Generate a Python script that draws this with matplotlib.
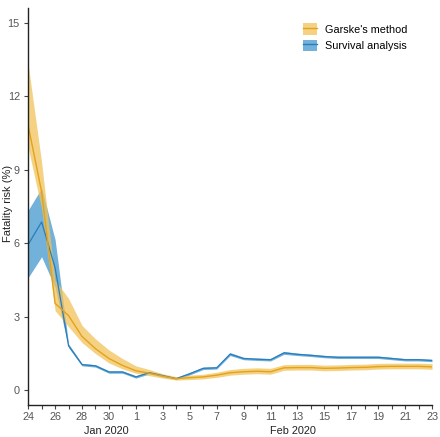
import numpy as np
import pandas as pd
import matplotlib
matplotlib.use('Agg')
import matplotlib.pyplot as plt
import matplotlib.dates as mdates
from matplotlib.patches import Patch
from matplotlib.lines import Line2D

plt.rcParams['font.family'] = ['Liberation Sans', 'DejaVu Sans']

dates = pd.date_range('2020-01-24', '2020-02-23', freq='D')

# Garske's method: estimate and interval
garske = [10.8, 8.1, 3.55, 3.05, 2.2, 1.7, 1.3, 1.02, 0.8, 0.7, 0.58, 0.48, 0.52, 0.55,
          0.62, 0.72, 0.76, 0.78, 0.76, 0.92, 0.93, 0.93, 0.9, 0.91, 0.93, 0.94,
          0.97, 0.98, 0.98, 0.98, 0.96]
garske_lo = [9.9, 7.4, 3.25, 2.6, 1.95, 1.5, 1.12, 0.88, 0.7, 0.6, 0.5, 0.42, 0.44, 0.47,
             0.53, 0.62, 0.66, 0.68, 0.66, 0.82, 0.83, 0.83, 0.8, 0.81, 0.83, 0.84,
             0.87, 0.88, 0.88, 0.88, 0.86]
garske_hi = [13.3, 9.3, 4.5, 3.75, 2.65, 2.1, 1.65, 1.3, 1.0, 0.85, 0.68, 0.56, 0.62, 0.66,
             0.74, 0.85, 0.9, 0.92, 0.9, 1.05, 1.06, 1.06, 1.03, 1.04, 1.06, 1.07,
             1.1, 1.11, 1.11, 1.11, 1.09]

# Survival analysis: estimate and interval
surv = [5.95, 6.87, 5.0, 1.82, 1.05, 1.0, 0.75, 0.75, 0.55, 0.72, 0.6, 0.48, 0.68, 0.9,
        0.92, 1.48, 1.3, 1.27, 1.25, 1.53, 1.47, 1.43, 1.38, 1.35, 1.35, 1.35,
        1.35, 1.3, 1.25, 1.25, 1.22]
surv_lo = [4.6, 5.45, 4.2, 1.75, 1.0, 0.95, 0.7, 0.7, 0.5, 0.67, 0.55, 0.44, 0.63, 0.85,
           0.87, 1.42, 1.25, 1.22, 1.2, 1.47, 1.42, 1.38, 1.33, 1.3, 1.3, 1.3,
           1.3, 1.25, 1.2, 1.2, 1.17]
surv_hi = [7.35, 8.25, 6.15, 1.9, 1.1, 1.05, 0.8, 0.8, 0.6, 0.77, 0.65, 0.52, 0.73, 0.95,
           0.97, 1.54, 1.35, 1.32, 1.3, 1.59, 1.52, 1.48, 1.43, 1.4, 1.4, 1.4,
           1.4, 1.35, 1.3, 1.3, 1.27]

org_line = '#E3A21A'
org_fill = '#F2C35A'
blu_line = '#2A7DBB'
blu_fill = '#4E9ED1'

fig = plt.figure(figsize=(4.4, 4.37), dpi=100)
ax = fig.add_axes([0.064, 0.073, 0.918, 0.909])

ax.fill_between(dates, surv_lo, surv_hi, color=blu_fill, alpha=0.8, lw=0)
ax.fill_between(dates, garske_lo, garske_hi, color=org_fill, alpha=0.75, lw=0)
ax.plot(dates, surv, color=blu_line, lw=0.9)
ax.plot(dates, garske, color=org_line, lw=1.0)

ax.set_xlim(dates[0], dates[-1])
ax.set_ylim(-0.6, 15.6)
ax.set_yticks([0, 3, 6, 9, 12, 15])

ax.xaxis.set_major_locator(mdates.DayLocator(bymonthday=list(range(24, 32, 2)) + list(range(1, 24, 2))))
ax.xaxis.set_major_formatter(mdates.DateFormatter('%-d'))
ax.xaxis.set_minor_locator(mdates.DayLocator())

for s in ['top', 'right']:
    ax.spines[s].set_visible(False)
for s in ['left', 'bottom']:
    ax.spines[s].set_color('#222222')
    ax.spines[s].set_linewidth(1.0)
ax.tick_params(axis='both', which='both', colors='#444444', labelcolor='#555555',
               labelsize=7.8, length=3, width=0.8)
ax.tick_params(axis='x', which='major', pad=2)
ax.tick_params(axis='y', which='major', pad=3)

# month labels under the day ticks
fig.text(106 / 440, 1 - 430.5 / 437, 'Jan 2020', ha='center', va='center',
         fontsize=7.8, color='#222222')
fig.text(293 / 440, 1 - 430.5 / 437, 'Feb 2020', ha='center', va='center',
         fontsize=7.8, color='#222222')
fig.text(8 / 440, 1 - 203 / 437, 'Fatality risk (%)', ha='center', va='center',
         rotation=90, fontsize=8, color='#222222')

handles = [(Patch(facecolor=org_fill, alpha=0.75), Line2D([], [], color=org_line, lw=1)),
           (Patch(facecolor=blu_fill, alpha=0.8), Line2D([], [], color=blu_line, lw=1))]
fig.legend(handles, ["Garske's method", 'Survival analysis'], loc='upper left',
           bbox_to_anchor=(303 / 440, 1 - 23 / 437), frameon=False, fontsize=7.8,
           borderpad=0, borderaxespad=0, handlelength=1.3, handleheight=1.3,
           labelspacing=0.45, handletextpad=0.75)

fig.savefig('out.png', dpi=100)
